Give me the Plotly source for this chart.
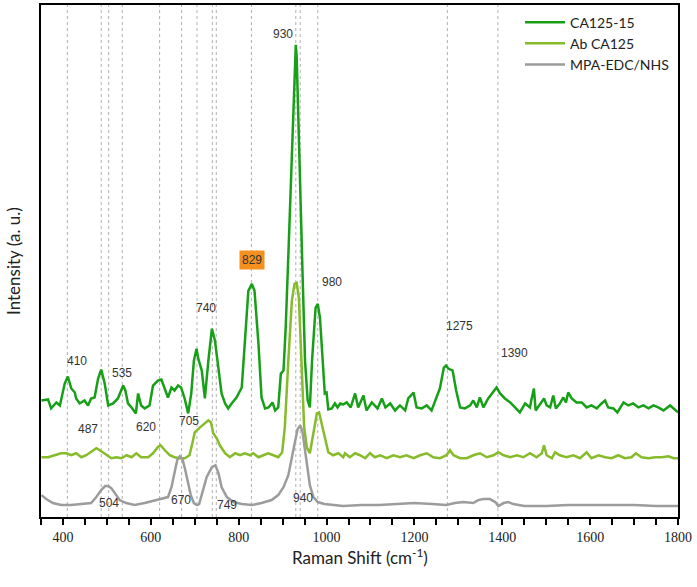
import plotly.graph_objects as go

# ---------------- data ----------------
shift_ca = [351,366,373,385,393,404,411,419,427,430,438,449,457,464,472,480,487,495,503,514,525,537,542,548,556,566,571,578,586,597,605,616,624,632,639,647,654,662,669,677,685,692,698,704,708,716,723,731,739,746,754,761,769,776,784,795,807,814,822,830,836,845,852,860,868,877,883,890,896,902,907,913,928,930,932,943,945,951,957,962,967,975,980,985,990,996,1000,1004,1012,1019,1025,1031,1038,1046,1055,1065,1072,1084,1091,1103,1116,1126,1134,1145,1156,1167,1179,1186,1198,1205,1217,1228,1239,1251,1258,1267,1272,1277,1282,1287,1295,1304,1315,1327,1334,1342,1349,1357,1368,1376,1387,1395,1406,1418,1429,1440,1452,1463,1466,1472,1476,1486,1495,1501,1509,1516,1522,1531,1539,1545,1550,1558,1569,1581,1592,1603,1615,1626,1634,1641,1653,1662,1676,1687,1698,1710,1721,1733,1744,1755,1767,1782,1790,1800]
int_ca = [117,118,109,115,112,134,141,129,125,119,114,117,112,119,120,139,148,134,112,114,119,132,127,114,110,104,124,112,109,112,132,137,138,129,120,130,127,132,130,119,104,124,157,169,159,147,119,157,189,177,150,124,114,109,114,120,130,174,227,234,227,174,120,109,110,115,107,110,144,147,190,262,462,474,462,262,250,157,117,110,157,210,214,200,164,124,125,108,109,114,110,114,113,115,110,124,110,122,107,115,109,119,110,114,107,112,107,119,125,110,109,112,107,120,129,150,152,149,148,147,127,110,109,112,117,110,120,110,119,124,130,124,119,115,110,105,114,110,117,129,107,114,119,112,110,122,109,114,120,115,125,119,115,115,110,112,109,114,117,110,109,105,115,112,114,110,112,109,112,110,107,112,109,105]

shift_ab = [351,366,381,396,408,419,430,442,453,464,476,484,491,499,510,522,533,545,556,567,578,594,605,616,622,632,643,654,666,677,688,695,700,712,723,731,737,742,750,757,769,780,792,803,814,826,833,845,856,867,879,890,899,905,913,921,927,932,937,943,949,955,962,970,978,983,989,996,1004,1015,1027,1038,1042,1053,1065,1076,1088,1099,1110,1122,1137,1152,1167,1182,1198,1213,1228,1243,1258,1273,1281,1289,1304,1319,1334,1349,1365,1380,1391,1403,1418,1433,1448,1463,1478,1490,1495,1501,1513,1520,1531,1546,1562,1577,1592,1603,1619,1634,1649,1664,1679,1694,1704,1717,1733,1748,1763,1778,1790,1800]
int_ab = [60,60,62,64,64,62,64,60,62,65,69,67,65,62,59,60,59,62,60,64,60,60,64,70,72,67,62,60,59,59,62,75,85,90,94,97,95,84,79,72,64,60,64,62,64,62,64,60,62,64,62,60,65,90,157,217,234,235,220,157,90,70,64,84,104,105,94,79,65,62,64,60,64,60,64,62,59,64,60,62,59,62,60,62,59,62,64,60,59,62,67,62,59,59,62,64,60,62,65,62,60,62,60,64,60,64,72,62,59,65,62,60,62,59,65,59,62,60,59,62,59,60,64,60,59,60,60,61,59,59]

shift_mpa = [351,362,377,396,419,442,464,476,487,496,503,510,518,529,544,563,586,605,624,639,647,654,660,666,672,678,684,691,698,705,710,716,727,739,747,754,761,773,788,807,830,852,875,890,902,913,922,928,934,940,945,950,955,962,970,980,995,1012,1038,1080,1120,1160,1200,1240,1273,1292,1311,1334,1345,1357,1372,1384,1391,1403,1414,1425,1450,1500,1550,1600,1650,1700,1750,1800]
int_mpa = [22,18,14,12,12,13,14,20,27,31,31,29,24,17,14,12,14,16,18,20,30,45,57,61,58,48,36,22,14,12,13,22,40,50,52,44,30,20,15,13,12,14,17,22,30,42,60,75,88,92,86,70,52,32,20,15,13,12,11,12,12,13,14,13,12,14,15,14,17,18,18,15,11,14,15,13,11,11,12,12,12,12,11,11]

series_names = ["CA125-15", "Ab CA125", "MPA-EDC/NHS"]

marker_lines = [410, 487, 504, 535, 620, 670, 705, 740, 749, 829, 930, 940, 980, 1275, 1390]

label_text = ["930", "829", "980", "740", "410", "535", "487", "620", "705", "504", "670", "749", "940", "1275", "1390"]
label_x = [901, 830, 1012, 725, 431, 535, 457, 590, 688, 504, 668, 773, 947, 1302, 1427]
label_y = [485, 258, 236, 210, 157, 145, 88, 90, 96, 14, 17, 12, 19, 192, 165]

major_ticks = list(range(400, 1801, 200))

# ---------------- figure ----------------
fig = go.Figure()
colors = ["#17a017", "#86bb2a", "#9c9c9c"]
for name, xs, ys, c in zip(series_names, [shift_ca, shift_ab, shift_mpa],
                           [int_ca, int_ab, int_mpa], colors):
    fig.add_trace(go.Scatter(x=xs, y=ys, mode="lines", name=name,
                             line=dict(color=c, width=2.5)))

for v in marker_lines:
    fig.add_shape(type="line", xref="x", yref="paper", x0=v, x1=v, y0=0, y1=1,
                  line=dict(color="#b0b0b0", width=1, dash="3px,3px"), layer="below")

for t, xv, yv in zip(label_text, label_x, label_y):
    ann = dict(x=xv, y=yv, xref="x", yref="y", text=t, showarrow=False,
               font=dict(family="Liberation Sans, Arial", size=12, color="#333333"))
    if t == "829":
        ann.update(bgcolor="#f5901f", borderpad=2)
    fig.add_annotation(**ann)

fig.add_annotation(xref="paper", yref="paper", x=-0.044, y=0.5, text="Intensity (a. u.)",
                   textangle=-90, showarrow=False, xanchor="center", yanchor="middle",
                   font=dict(family="Lato, Open Sans", size=17, color="#222"))
fig.add_annotation(xref="paper", yref="paper", x=0.5, y=-0.078, text="Raman Shift (cm<sup>-1</sup>)",
                   showarrow=False, xanchor="center", yanchor="middle",
                   font=dict(family="Lato, Open Sans", size=17, color="#222"))

fig.update_layout(
    width=697, height=587,
    margin=dict(l=41, r=19, t=3, b=70),
    plot_bgcolor="white", paper_bgcolor="white",
    showlegend=True,
    legend=dict(x=0.752, y=0.997, xanchor="left", yanchor="top",
                bgcolor="rgba(0,0,0,0)", tracegroupgap=0, itemwidth=40,
                font=dict(family="Lato, Open Sans", size=14, color="#222")),
    xaxis=dict(range=[350, 1800], showgrid=False, zeroline=False,
               showline=True, linecolor="black", linewidth=1.5, mirror=True,
               ticks="outside", ticklen=6, tickwidth=1.5, tickcolor="black",
               tickvals=major_ticks,
               minor=dict(tick0=350, dtick=50, ticks="outside", ticklen=6,
                          tickwidth=1.5, tickcolor="black", showgrid=False),
               tickfont=dict(family="Liberation Serif, Times New Roman", size=14, color="#222")),
    yaxis=dict(range=[0, 514], showgrid=False, zeroline=False,
               showline=True, linecolor="black", linewidth=1.5, mirror=True,
               showticklabels=False, ticks=""),
)

fig.write_html("out.html")
